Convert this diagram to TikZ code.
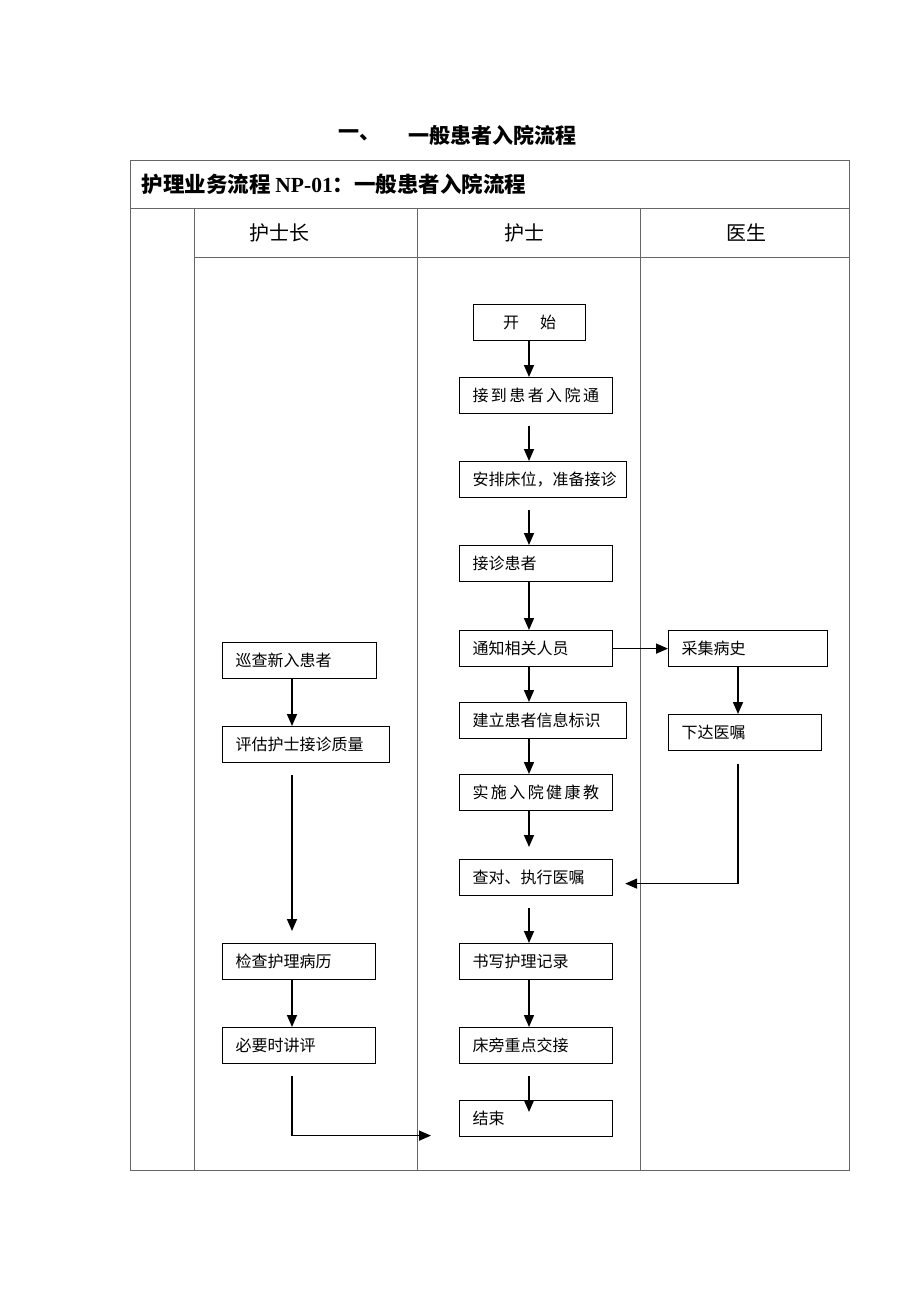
\documentclass[tikz,border=0pt]{standalone}
\usepackage{fontspec}
\setmainfont{Noto Sans CJK SC}
\newfontfamily\latinbf{Liberation Serif}
\usetikzlibrary{arrows.meta}
\tikzset{
  box/.style={draw, line width=1.2pt, anchor=north west, minimum height=36pt,
    inner xsep=13pt, inner ysep=0pt, align=left, font=\fontsize{16}{18}\selectfont},
  arr/.style={line width=1.6pt, -{Triangle[length=12pt,width=10pt]}},
  grid/.style={line width=1pt, black!60},
}
\begin{document}
\begin{tikzpicture}[x=1pt,y=-1pt]
		\useasboundingbox (0,0) rectangle (920,1302);
		% table
		\draw[grid] (130,160) rectangle (849,1170);
		\draw[grid] (130,208) -- (849,208);
		\draw[grid] (194,257) -- (849,257);
		\draw[grid] (194,208) -- (194,1170);
		\draw[grid] (417,208) -- (417,1170);
		\draw[grid] (640,208) -- (640,1170);
		\node[font=\fontsize{21}{24}\selectfont\bfseries] (num) at (359,135) {一、};
		\node[font=\fontsize{21}{24}\selectfont\bfseries] (title) at (492,135) {一般患者入院流程};
		\node[anchor=west, font=\fontsize{21.5}{24}\selectfont\bfseries] (head) at (138,184) {护理业务流程 {\latinbf NP-01}：一般患者入院流程};
		\node[font=\fontsize{20}{24}\selectfont] (col1) at (279,233) {护士长};
		\node[font=\fontsize{20}{24}\selectfont] (col2) at (524,233) {护士};
		\node[font=\fontsize{20}{24}\selectfont] (col3) at (746,233) {医生};
		% axes of the columns
		\coordinate (hx) at (292,0);
		\coordinate (nx) at (529,0);
		\coordinate (dx) at (738,0);
		% nurse
		\node[box, text width=86pt, align=center] (n1) at (473,304) {开\hspace{21pt}始};
		\node[box, text width=127pt] (n2) at (459,377) {\addfontfeature{LetterSpace=15}接到患者入院通};
		\node[box, text width=141pt] (n3) at (459,461) {安排床位，准备接诊};
		\node[box, text width=127pt] (n4) at (459,545) {接诊患者};
		\node[box, text width=127pt] (n5) at (459,630) {通知相关人员};
		\node[box, text width=141pt] (n6) at (459,702) {建立患者信息标识};
		\node[box, text width=127pt] (n7) at (459,774) {\addfontfeature{LetterSpace=15}实施入院健康教};
		\node[box, text width=127pt] (n8) at (459,859) {查对、执行医嘱};
		\node[box, text width=127pt] (n9) at (459,943) {书写护理记录};
		\node[box, text width=127pt] (n10) at (459,1027) {床旁重点交接};
		\node[box, text width=127pt] (n11) at (459,1100) {结束};
		% head nurse
		\node[box, text width=128pt] (h1) at (222,642) {巡查新入患者};
		\node[box, text width=141pt] (h2) at (222,726) {评估护士接诊质量};
		\node[box, text width=127pt] (h3) at (222,943) {检查护理病历};
		\node[box, text width=127pt] (h4) at (222,1027) {必要时讲评};
		% doctor
		\node[box, text width=133pt] (d1) at (668,630) {采集病史};
		\node[box, text width=127pt] (d2) at (668,714) {下达医嘱};
		% arrows
		\draw[arr] (n1.south -| nx) -- (n2.north -| nx);
		\draw[arr, shorten <=12pt] (n2.south -| nx) -- (n3.north -| nx);
		\draw[arr, shorten <=12pt] (n3.south -| nx) -- (n4.north -| nx);
		\draw[arr] (n4.south -| nx) -- (n5.north -| nx);
		\draw[arr] (n5.south -| nx) -- (n6.north -| nx);
		\draw[arr] (n6.south -| nx) -- (n7.north -| nx);
		\draw[arr, shorten >=12pt] (n7.south -| nx) -- (n8.north -| nx);
		\draw[arr, shorten <=12pt] (n8.south -| nx) -- (n9.north -| nx);
		\draw[arr] (n9.south -| nx) -- (n10.north -| nx);
		\draw[arr, shorten <=12pt, shorten >=-12pt] (n10.south -| nx) -- (n11.north -| nx);
		\draw[arr] (h1.south -| hx) -- (h2.north -| hx);
		\draw[arr, shorten <=12pt, shorten >=12pt] (h2.south -| hx) -- (h3.north -| hx);
		\draw[arr] (h3.south -| hx) -- (h4.north -| hx);
		\draw[arr, shorten <=12pt, shorten >=28pt] (h4.south -| hx) |- ([yshift=-17pt]n11.west);
		\draw[arr] (n5.east) -- (d1.west);
		\draw[arr] (d1.south -| dx) -- (d2.north -| dx);
		\draw[arr, shorten <=13pt, shorten >=12pt] (d2.south -| dx) |- ([yshift=-6pt]n8.east);
	\end{tikzpicture}
\end{document}
